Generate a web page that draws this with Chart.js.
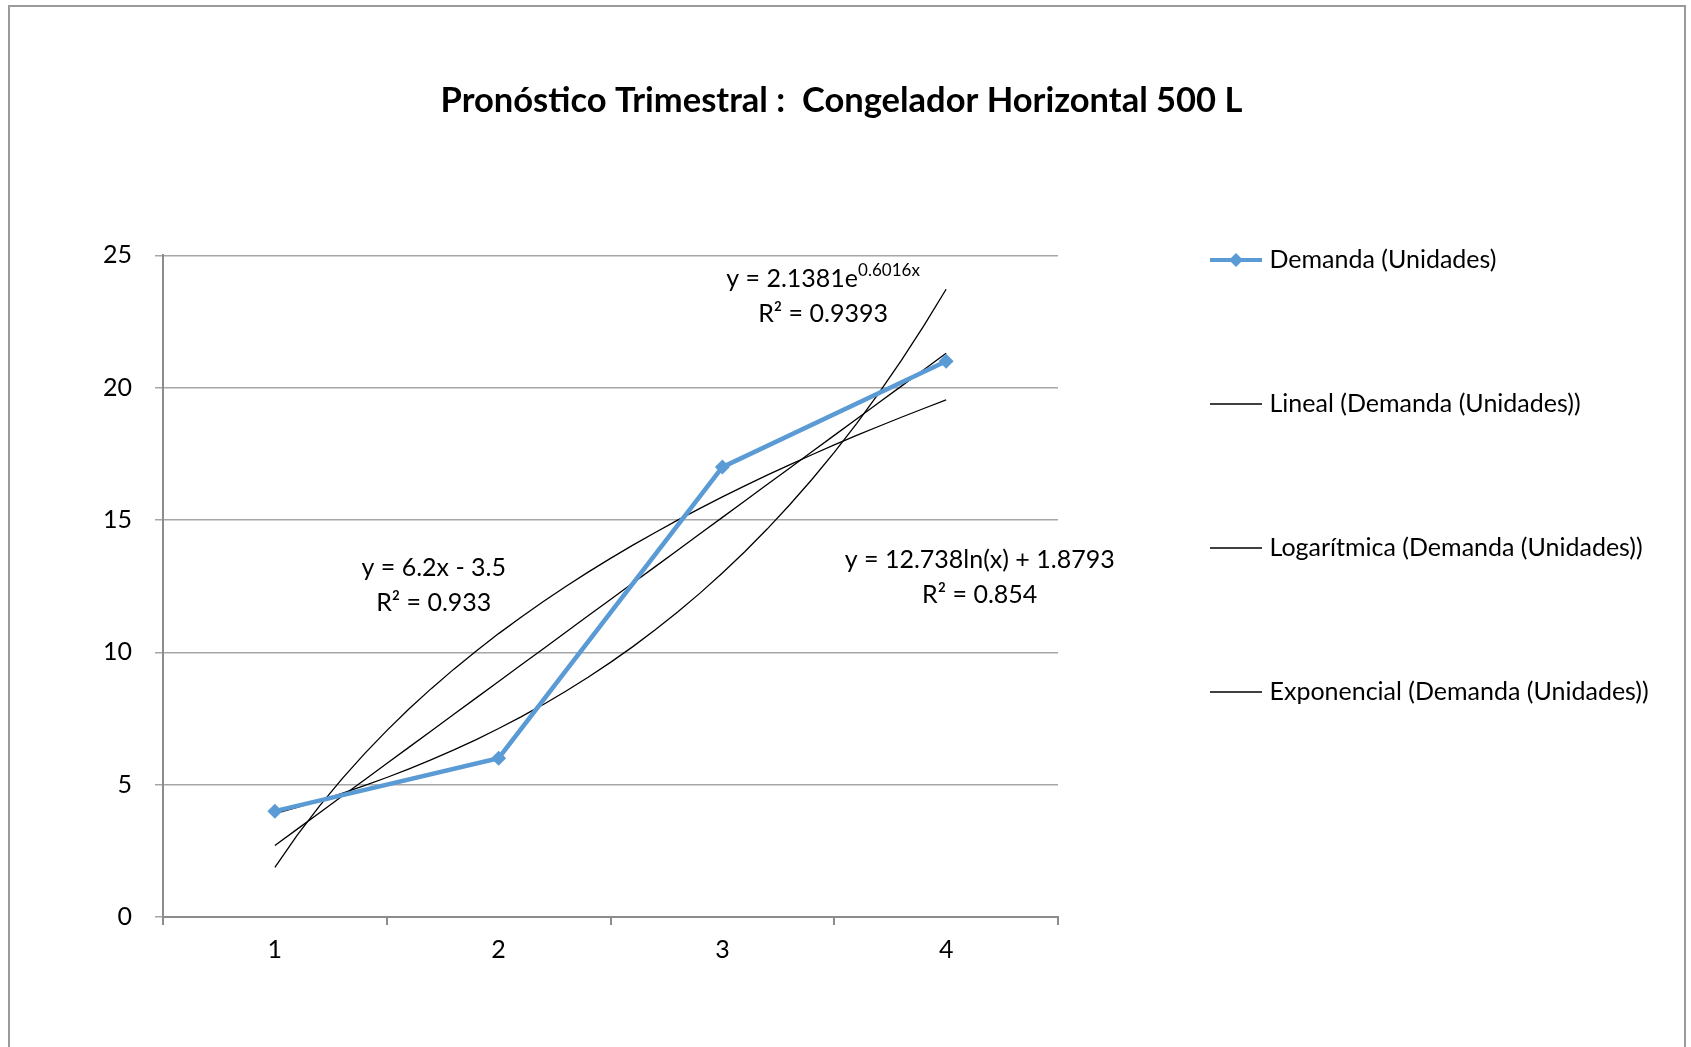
<!DOCTYPE html>
<html>
<head>
<meta charset="utf-8">
<title>Pronóstico Trimestral</title>
<script src="https://cdn.jsdelivr.net/npm/chart.js@4.4.1/dist/chart.umd.min.js"></script>
<style>
  body { margin: 0; background: #fff; overflow: hidden; }
  #myChart { display: block; }
</style>
</head>
<body>
<canvas id="myChart" width="1691" height="1047"></canvas>
<script>
// Data
const quarters = ["1", "2", "3", "4"];
const demand = [4, 6, 17, 21];

// Trend line coefficients, as printed on the chart
const linearCoef = [6.2, -3.5];     // y = a*x + b
const logCoef = [12.738, 1.8793];   // y = a*ln(x) + b
const expCoef = [2.1381, 0.6016];   // y = a*e^(b*x)

const seriesNames = [
  "Demanda (Unidades)",
  "Lineal (Demanda (Unidades))",
  "Logarítmica (Demanda (Unidades))",
  "Exponencial (Demanda (Unidades))",
];

// Equation labels (anchored in data units)
const eqText = [
  ["y = 6.2x - 3.5", "R² = 0.933"],
  ["y = 12.738ln(x) + 1.8793", "R² = 0.854"],
  ["y = 2.1381e", "R² = 0.9393"],
];
const eqSup = ["", "", "0.6016x"];
const eqX = [1.71, 4.15, 3.45];
const eqY = [13.19, 13.48, 24.12];

const FONT = "Lato, 'Open Sans', sans-serif";
const BLUE = "#5b9bd5";

// x positions where the trend lines are evaluated (from quarter 1 to 4)
const trendX = Array.from({ length: 31 }, (_, i) => 1 + i * 0.1);
const linearPts = trendX.map((x) => ({ x: x, y: linearCoef[0] * x + linearCoef[1] }));
const logPts = trendX.map((x) => ({ x: x, y: logCoef[0] * Math.log(x) + logCoef[1] }));
const expPts = trendX.map((x) => ({ x: x, y: expCoef[0] * Math.exp(expCoef[1] * x) }));

// small pictures used as legend symbols
function legendIcon(withMarker) {
  const c = document.createElement("canvas");
  c.width = 52;
  c.height = 16;
  const g = c.getContext("2d");
  g.strokeStyle = withMarker ? BLUE : "#000";
  g.lineWidth = withMarker ? 4 : 1.3;
  g.beginPath();
  g.moveTo(0, 8);
  g.lineTo(52, 8);
  g.stroke();
  if (withMarker) {
    g.fillStyle = BLUE;
    g.beginPath();
    g.moveTo(26, 1);
    g.lineTo(33, 8);
    g.lineTo(26, 15);
    g.lineTo(19, 8);
    g.closePath();
    g.fill();
  }
  return c;
}

const legendWidth = 623;
const legendGap = 38;

// legend keeps a fixed width and sits a bit away from the plot
const legendFix = {
  id: "legendFix",
  beforeInit(chart) {
    const fit = chart.legend.fit;
    chart.legend.fit = function () {
      fit.call(this);
      this.width = legendWidth;
    };
  },
  afterLayout(chart) {
    chart.legend.left = chart.chartArea.right + legendGap;
    chart.legend.right = chart.legend.left + chart.legend.width;
  },
};

// grey frame round the whole chart
const chartFrame = {
  id: "chartFrame",
  beforeDraw(chart) {
    const c = chart.ctx;
    c.save();
    c.strokeStyle = "#9a9a9a";
    c.lineWidth = 2;
    c.strokeRect(9, 6, chart.width - 15, chart.height + 20);
    c.restore();
  },
};

// trend line equations
const equationLabels = {
  id: "equationLabels",
  afterDatasetsDraw(chart) {
    const { ctx, scales } = chart;
    ctx.save();
    ctx.fillStyle = "#000";
    ctx.textBaseline = "middle";
    eqText.forEach((lines, i) => {
      const cx = scales.x2.getPixelForValue(eqX[i]);
      const cy = scales.y.getPixelForValue(eqY[i]);
      lines.forEach((txt, k) => {
        const y = cy + k * 35;
        ctx.font = "25px " + FONT;
        if (k === 0 && eqSup[i]) {
          const w1 = ctx.measureText(txt).width;
          ctx.font = "17px " + FONT;
          const w2 = ctx.measureText(eqSup[i]).width;
          const start = cx - (w1 + w2) / 2;
          ctx.textAlign = "left";
          ctx.font = "25px " + FONT;
          ctx.fillText(txt, start, y);
          ctx.font = "17px " + FONT;
          ctx.fillText(eqSup[i], start + w1, y - 8);
        } else {
          ctx.textAlign = "center";
          ctx.fillText(txt, cx, y);
        }
      });
    });
    ctx.restore();
  },
};

const ctx = document.getElementById("myChart").getContext("2d");
new Chart(ctx, {
  type: "line",
  data: {
    labels: quarters,
    datasets: [
      {
        label: seriesNames[0],
        data: demand,
        xAxisID: "x",
        borderColor: BLUE,
        backgroundColor: BLUE,
        borderWidth: 4.5,
        pointStyle: "rectRot",
        pointRadius: 7.5,
        pointBorderWidth: 0,
        order: 0,
      },
      {
        label: seriesNames[1],
        data: linearPts,
        xAxisID: "x2",
        borderColor: "#000",
        borderWidth: 1.3,
        pointRadius: 0,
        order: 1,
      },
      {
        label: seriesNames[2],
        data: logPts,
        xAxisID: "x2",
        borderColor: "#000",
        borderWidth: 1.3,
        pointRadius: 0,
        order: 2,
      },
      {
        label: seriesNames[3],
        data: expPts,
        xAxisID: "x2",
        borderColor: "#000",
        borderWidth: 1.3,
        pointRadius: 0,
        order: 3,
      },
    ],
  },
  options: {
    responsive: false,
    animation: false,
    events: [],
    layout: {
      padding: { left: 2, right: 10, top: -13, bottom: 82 },
    },
    plugins: {
      title: {
        display: true,
        text: "Pronóstico Trimestral :  Congelador Horizontal 500 L",
        color: "#000",
        font: { family: FONT, size: 34.5, weight: "bold", lineHeight: 1.2 },
        padding: { top: 93, bottom: 134 },
      },
      legend: {
        position: "right",
        align: "center",
        labels: {
          color: "#000",
          font: { family: FONT, size: 25 },
          padding: 119,
          usePointStyle: true,
          pointStyleWidth: 42,
          generateLabels: (chart) =>
            chart.data.datasets.map((ds, i) => ({
              text: ds.label,
              pointStyle: legendIcon(i === 0),
              datasetIndex: i,
              fontColor: "#000",
              lineWidth: 0,
              hidden: false,
            })),
        },
      },
      tooltip: { enabled: false },
    },
    scales: {
      x: {
        type: "category",
        offset: true,
        afterFit: (scale) => { scale.height = 48; },
        grid: {
          offset: true,
          drawOnChartArea: false,
          tickLength: 8,
          color: "#8c8c8c",
          lineWidth: 2,
        },
        border: { color: "#8c8c8c", width: 2 },
        ticks: {
          color: "#000",
          padding: 10,
          font: { family: FONT, size: 25 },
        },
      },
      x2: {
        type: "linear",
        display: false,
        min: 0.5,
        max: 4.5,
      },
      y: {
        min: 0,
        max: 25,
        afterFit: (scale) => { scale.width = 161; },
        ticks: {
          stepSize: 5,
          color: "#000",
          padding: 23,
          font: { family: FONT, size: 25 },
        },
        grid: {
          color: "#a6a6a6",
          lineWidth: 1.5,
          tickLength: 8,
        },
        border: { color: "#8c8c8c", width: 2 },
      },
    },
  },
  plugins: [chartFrame, legendFix, equationLabels],
});
</script>
</body>
</html>
